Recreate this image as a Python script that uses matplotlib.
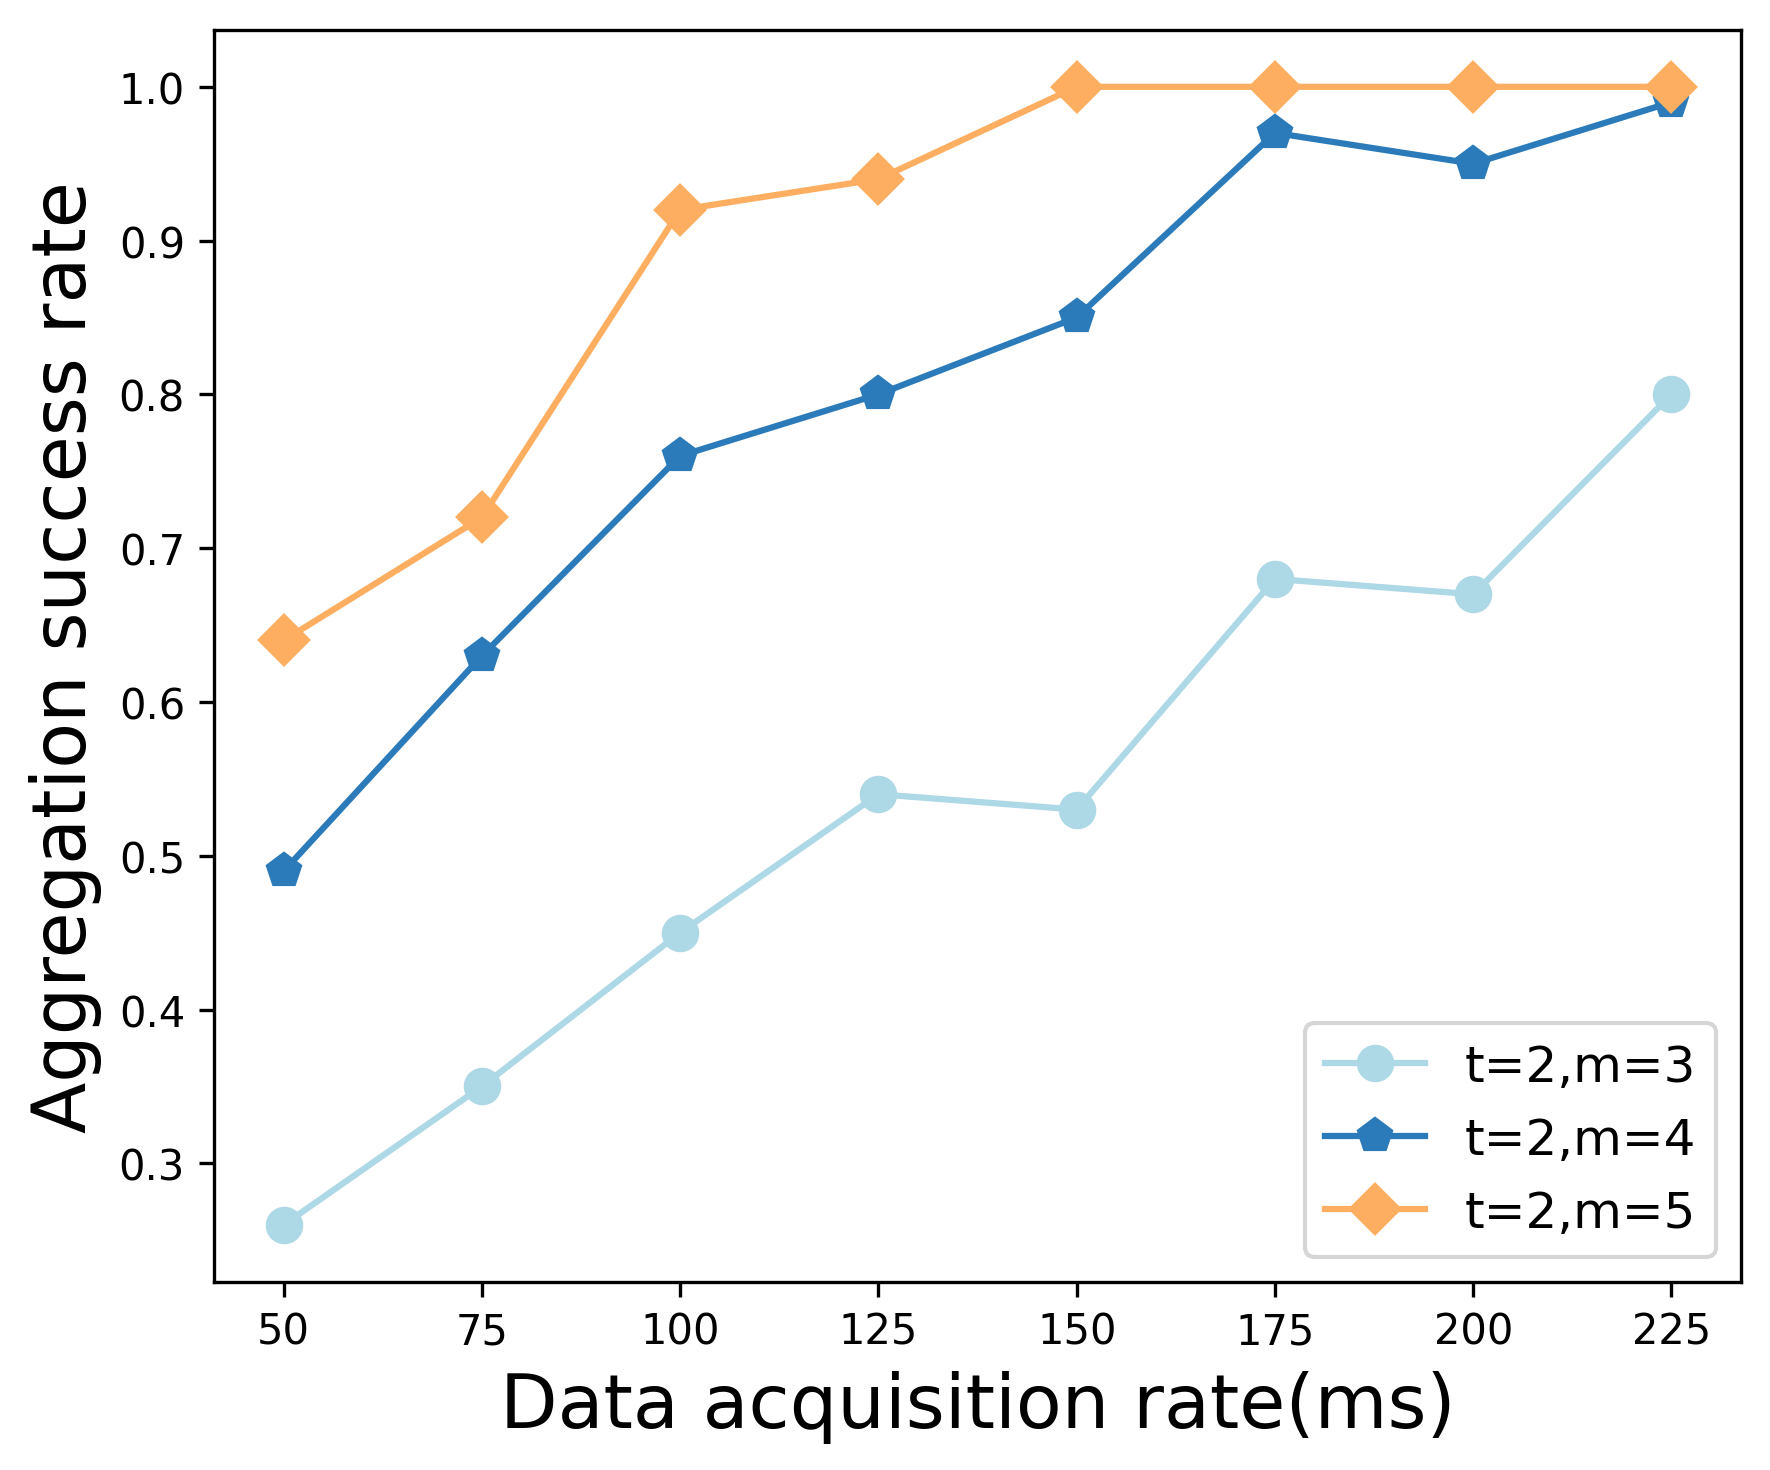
import matplotlib.pyplot as plt

# data
rates = [50, 75, 100, 125, 150, 175, 200, 225]
success_m3 = [0.26, 0.35, 0.45, 0.54, 0.53, 0.68, 0.67, 0.80]
success_m4 = [0.49, 0.63, 0.76, 0.80, 0.85, 0.97, 0.95, 0.99]
success_m5 = [0.64, 0.72, 0.92, 0.94, 1.00, 1.00, 1.00, 1.00]
labels = ['t=2,m=3', 't=2,m=4', 't=2,m=5']

fig, ax = plt.subplots(figsize=(5.9033, 4.9033), dpi=300)
fig.subplots_adjust(left=0.121, right=0.983, top=0.979, bottom=0.128)

ax.plot(rates, success_m3, color='#ADD8E6', marker='o', markersize=8, linewidth=1.5, label=labels[0])
ax.plot(rates, success_m4, color='#2B7BBA', marker='p', markersize=8, linewidth=1.5, label=labels[1])
ax.plot(rates, success_m5, color='#FDAE61', marker='D', markersize=8, linewidth=1.5, label=labels[2])

ax.set_xticks(rates)
ax.tick_params(labelsize=10)
ax.set_xlabel('Data acquisition rate(ms)', fontsize=18)
ax.set_ylabel('Aggregation success rate', fontsize=18)
ax.legend(loc='lower right', fontsize=12)

plt.savefig('out.png')
plt.close()
